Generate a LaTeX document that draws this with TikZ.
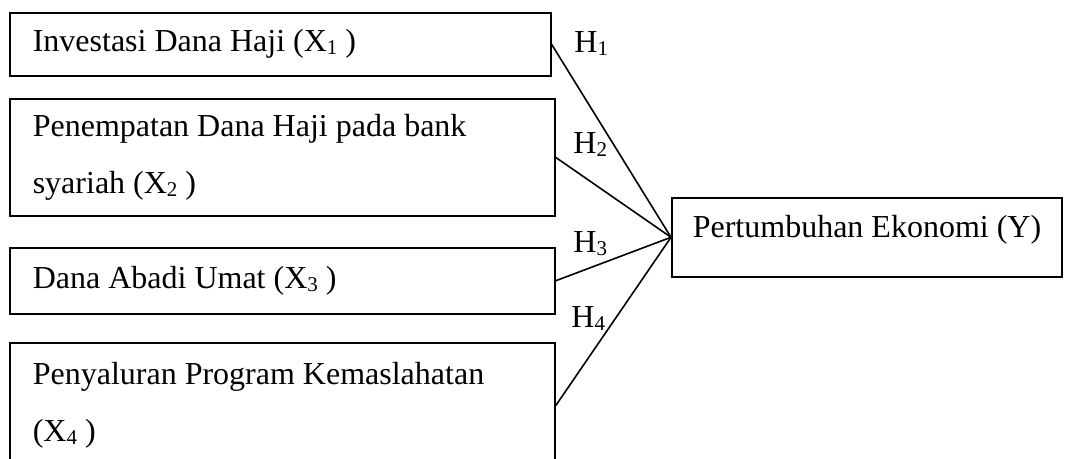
\documentclass[tikz,border=0pt]{standalone}
\usepackage{fontspec}
\setmainfont{Liberation Serif}
\newcommand\sbs[1]{\raisebox{-0.18ex}{\fontsize{10.5}{12}\selectfont #1}}
\begin{document}
\begin{tikzpicture}[x=0.5pt,y=-0.5pt,
  every node/.style={font=\fontsize{16}{28.5}\selectfont},
  box/.style={draw, line width=0.8pt, rectangle, anchor=north west, inner xsep=11.5pt, inner ysep=0pt, align=flush left},
  link/.style={line width=0.8pt},
  hyp/.style={anchor=base west, inner sep=0pt}]
\useasboundingbox (0,0) rectangle (1070,459);
\clip (0,0) rectangle (1070,459);
\node[box, minimum width=270.5pt, minimum height=31.5pt, text width=247.5pt] (x1) at (9,12) {Investasi Dana Haji (X\sbs{1} )};
\node[box, minimum width=272.5pt, minimum height=58.5pt, text width=249.5pt] (x2) at (9,98) {Penempatan Dana Haji pada bank\\syariah (X\sbs{2} )};
\node[box, minimum width=272.5pt, minimum height=33pt, text width=249.5pt] (x3) at (9,247) {Dana Abadi Umat (X\sbs{3} )};
\node[box, minimum width=272.5pt, minimum height=63pt, text width=249.5pt] (x4) at (9,342) {Penyaluran Program Kemaslahatan\\(X\sbs{4} )};
\node[box, inner xsep=10.5pt, minimum width=194.5pt, text height=20pt, text depth=19.5pt] (y) at (671,197) {Pertumbuhan Ekonomi (Y)};
\draw[link] (x1.east) -- (y.west);
\draw[link] (x2.east) -- (y.west);
\draw[link] (x3.east) -- (y.west);
\draw[link] (x4.east) -- (y.west);
\node[hyp] (h1) at (574,53) {H\sbs{1}};
\node[hyp] (h2) at (573,154) {H\sbs{2}};
\node[hyp] (h3) at (573,253) {H\sbs{3}};
\node[hyp] (h4) at (571,328) {H\sbs{4}};
\end{tikzpicture}
\end{document}
